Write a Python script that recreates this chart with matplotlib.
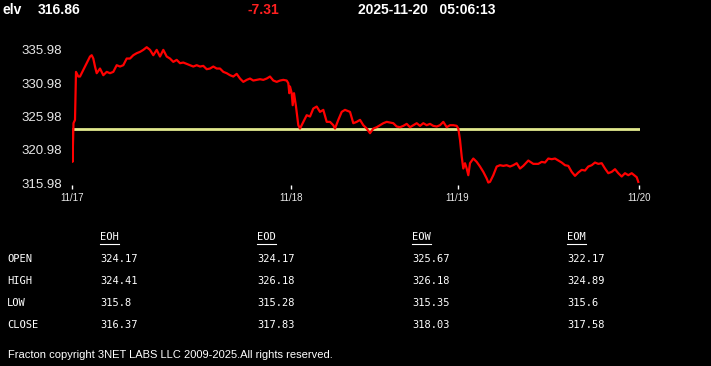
import matplotlib
matplotlib.use("Agg")
import matplotlib.pyplot as plt
from matplotlib.lines import Line2D

# ---------------- data ----------------
symbol = "elv"
last_price = "316.86"
change = "-7.31"
timestamp = "2025-11-20   05:06:13"
prev_close = 324.17

# x positions (session time units) and prices
x_pos = [0, 0.5, 1.5, 3, 4, 6.3, 8, 11.3, 14.7, 18, 19.7, 21.3, 23, 24.7, 28, 31.3, 34.7, 38,
         41.3, 44.7, 48, 51.3, 54.7, 58, 61.3, 64.7, 68, 71.3, 74.7, 78, 81.3, 84.7, 88, 91.3,
         94.7, 98, 101.3, 104.7, 108, 111.3, 114.7, 118, 121.3, 124.7, 128, 131.3, 134.7, 138,
         141.3, 144.7, 148, 151.3, 154.7, 158, 161.3, 164.7, 168, 171.3, 174.7, 178, 181.3,
         184.7, 188, 191.3, 194.7, 198, 201.3, 204.7, 208, 211.3, 214.7, 216.3, 217.3, 218,
         219.7, 220.7, 222, 224, 226.3, 228, 231.3, 234.7, 238, 241.3, 244.7, 248, 251.3, 254.7,
         258, 261.3, 263, 266.3, 269.7, 273, 278, 281.3, 284.7, 288, 291.3, 294.7, 298, 301.3,
         304.7, 308, 311.3, 314.7, 318, 321.3, 324.7, 328, 331.3, 334.7, 338, 341.3, 344.7, 348,
         351.3, 354.7, 358, 361.3, 364.7, 368, 371.3, 374.7, 378, 381.3, 384.7, 386.3, 388,
         389.7, 391.3, 393, 394.7, 396.3, 398, 401.3, 404.7, 408, 411.3, 414.7, 416.3, 418,
         421.3, 424.7, 428, 431.3, 434.7, 438, 441.3, 444.7, 448, 451.3, 456.3, 461.3, 466.3,
         469.7, 473, 476.3, 479.7, 483, 486.3, 489.7, 493, 496.3, 499.7, 503, 506.3, 509.7, 513,
         516.3, 519.7, 523, 526.3, 529.7, 533, 536.3, 539.7, 543, 546.3, 549.7, 553, 556.3,
         559.7, 563, 564.7, 566.3]
prices = [324.1, 319.2, 325.0, 325.5, 332.7, 332.0, 332.0, 333.0, 334.0, 335.0, 335.2, 334.7,
          333.5, 332.5, 333.2, 332.2, 332.7, 332.5, 332.7, 333.7, 333.5, 333.7, 334.7, 334.7,
          335.2, 335.5, 335.7, 336.0, 336.4, 336.0, 335.2, 336.0, 335.0, 336.0, 335.0, 334.7,
          334.2, 334.5, 334.0, 334.1, 333.9, 333.7, 333.5, 333.7, 333.5, 333.6, 333.1, 333.2,
          333.5, 333.2, 333.2, 332.7, 332.5, 332.2, 332.0, 332.4, 331.7, 331.2, 331.5, 331.7,
          331.4, 331.5, 331.6, 331.5, 331.7, 332.0, 331.4, 331.2, 331.4, 331.5, 331.4, 331.0,
          329.5, 330.5, 329.5, 327.7, 329.5, 327.5, 324.7, 324.2, 325.2, 326.2, 326.0, 327.2,
          327.5, 326.7, 327.0, 325.2, 325.2, 324.7, 324.2, 325.5, 326.7, 327.0, 326.7, 325.0,
          325.2, 325.5, 324.7, 324.2, 323.5, 324.2, 324.4, 324.7, 325.0, 325.2, 325.1, 325.0,
          324.5, 324.4, 324.6, 324.9, 324.4, 324.7, 325.0, 324.6, 325.0, 324.7, 324.9, 324.6,
          324.5, 324.7, 325.2, 324.4, 324.7, 324.7, 324.6, 324.2, 322.5, 320.0, 318.2, 319.0,
          318.2, 317.2, 319.0, 319.7, 319.2, 318.5, 317.7, 316.7, 316.1, 316.2, 317.2, 318.5,
          318.7, 318.6, 318.7, 318.5, 318.7, 319.0, 318.2, 318.6, 319.4, 318.9, 318.9, 319.2,
          319.1, 319.7, 319.6, 319.7, 319.4, 319.1, 318.7, 318.6, 317.7, 317.1, 317.6, 318.0,
          317.9, 318.5, 318.7, 319.1, 318.9, 319.0, 318.2, 317.5, 317.7, 318.1, 317.5, 317.0,
          317.5, 317.2, 317.5, 317.1, 316.9, 316.2]

y_ticks = [315.98, 320.98, 325.98, 330.98, 335.98]
x_tick_pos = [0, 219, 385.6, 566.6]
x_tick_labels = ["11/17", "11/18", "11/19", "11/20"]

col_headers = ["EOH", "EOD", "EOW", "EOM"]
row_labels = ["OPEN", "HIGH", "LOW", "CLOSE"]
table_values = [
    ["324.17", "324.17", "325.67", "322.17"],
    ["324.41", "326.18", "326.18", "324.89"],
    ["315.8", "315.28", "315.35", "315.6"],
    ["316.37", "317.83", "318.03", "317.58"],
]
copyright_text = "Fracton copyright 3NET LABS LLC 2009-2025.All rights reserved."

# ---------------- layout ----------------
W, H = 711, 366
fig = plt.figure(figsize=(W / 100, H / 100), dpi=100, facecolor="black")

def fx(px):
    return px / W

def fy(py):
    return 1 - py / H

ax_left, ax_right, ax_top, ax_bottom = 72, 640, 40, 185
ax = fig.add_axes([fx(ax_left), fy(ax_bottom), (ax_right - ax_left) / W, (ax_bottom - ax_top) / H])
ax.set_facecolor("black")
ax.set_xlim(0, 568)
ax.set_ylim(315.73, 337.48)
for s in ax.spines.values():
    s.set_visible(False)

ax.plot([0, 568], [prev_close, prev_close], color="#e2ea8e", lw=2.0, solid_capstyle="butt")
ax.plot(x_pos, prices, color="#ff0000", lw=1.6)

ax.set_yticks(y_ticks)
ax.set_yticklabels([f"{v:.2f}" for v in y_ticks], fontsize=9.5,
                   family=["Liberation Sans", "DejaVu Sans"], color="#e8e8e8")
ax.tick_params(axis="y", length=0, pad=7)
ax.set_xticks(x_tick_pos)
ax.set_xticklabels(x_tick_labels, fontsize=7, family=["Liberation Sans", "DejaVu Sans"],
                   color="#e8e8e8")
ax.tick_params(axis="x", length=3, width=1, color="white", direction="out", pad=3)

# ---------------- header ----------------
hfont = dict(family=["Liberation Sans", "DejaVu Sans"], fontsize=10, fontweight="bold",
             va="center", ha="left")
fig.text(fx(3), fy(10), symbol, color="white", **hfont)
fig.text(fx(38), fy(10), last_price, color="white", **hfont)
fig.text(fx(247), fy(10), change, color="#ff2020", **hfont)
fig.text(fx(358), fy(10), timestamp, color="white", **hfont)

# ---------------- table ----------------
mono = dict(family=["DejaVu Sans Mono"], fontsize=7.5, color="white", va="center", ha="left")
col_x = [100, 257, 412, 567]
row_y = [259, 281, 303, 325]
head_y = 237
for cx, h in zip(col_x, col_headers):
    fig.text(fx(cx), fy(head_y), h, **mono)
    fig.add_artist(Line2D([fx(cx), fx(cx + 19)], [fy(head_y + 7), fy(head_y + 7)],
                          color="white", lw=0.8))
for ry, lab, vals in zip(row_y, row_labels, table_values):
    fig.text(fx(7), fy(ry), lab, **mono)
    for cx, v in zip(col_x, vals):
        fig.text(fx(cx), fy(ry), v, **mono)

fig.text(fx(8), fy(355), copyright_text, color="white", fontsize=8,
         family=["Liberation Sans", "DejaVu Sans"], va="center", ha="left")

fig.savefig("out.png", dpi=100, facecolor="black")
